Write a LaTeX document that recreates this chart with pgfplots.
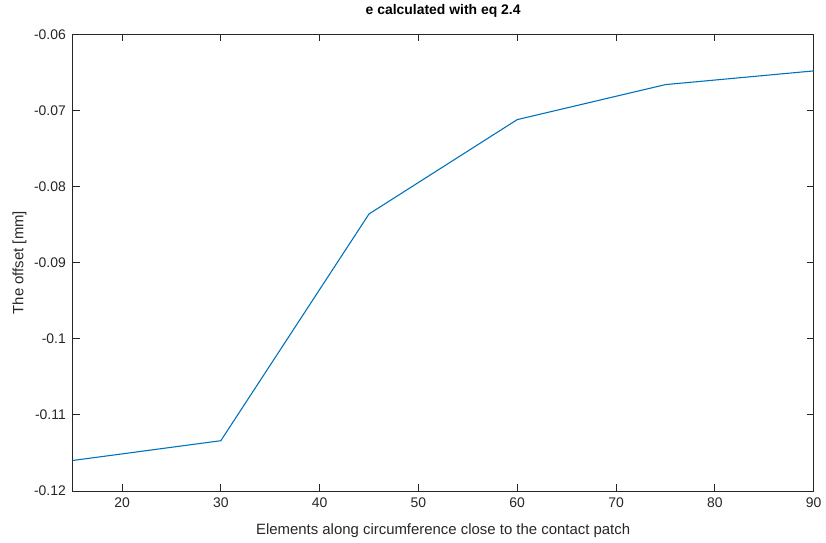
\documentclass[border=0pt]{standalone}
\usepackage{fontspec}
\setmainfont{Liberation Sans}
\usepackage{pgfplots}
\pgfplotsset{compat=1.18}
\definecolor{mblue}{rgb}{0,0.447,0.741}
\definecolor{axgray}{gray}{0.15}
\begin{document}
\fontsize{14}{16}\selectfont
\begin{tikzpicture}
\begin{axis}[
  scale only axis, width=745pt, height=459pt,
  xmin=15, xmax=90, ymin=-0.12, ymax=-0.06,
  xtick={20,30,...,90},
  ytick={-0.12,-0.11,-0.10,-0.09,-0.08,-0.07,-0.06},
  yticklabels={-0.12,-0.11,-0.1,-0.09,-0.08,-0.07,-0.06},
  xticklabels={20,30,40,50,60,70,80,90},
  tick align=inside, major tick length=7pt,
  axis line style={axgray, line width=0.8pt},
  every tick/.style={axgray, line width=0.8pt},
  tick label style={font=\fontsize{14}{16}\selectfont, text=axgray},
  xticklabel style={yshift=-2pt},
  yticklabel style={xshift=-2pt},
  label style={font=\fontsize{15}{17}\selectfont, text=axgray},
  xlabel={Elements along circumference close to the contact patch},
  ylabel={The offset [mm]},
  xlabel style={yshift=-7pt},
  ylabel style={yshift=-2pt},
  title={\bfseries e calculated with eq 2.4},
  title style={font=\fontsize{14}{16}\selectfont, yshift=6pt},
  scaled y ticks=false,
]
\addplot[mblue, line width=1.1pt] coordinates {
  (15,-0.1160) (30,-0.1134) (45,-0.0836) (60,-0.0712) (75,-0.0666) (90,-0.0648)
};
\end{axis}
\path (current axis.south west) ++(-73pt,-48pt) (current axis.north east) ++(8pt,34pt);
\end{tikzpicture}
\end{document}
